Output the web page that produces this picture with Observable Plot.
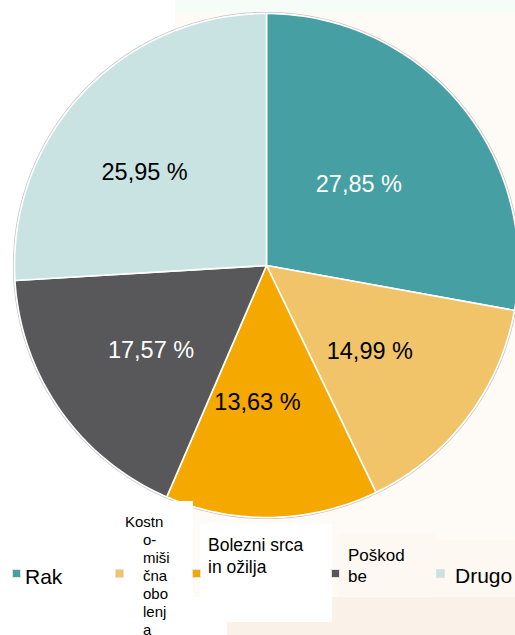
<!DOCTYPE html>
<html><head><meta charset="utf-8">
<script src="https://cdn.jsdelivr.net/npm/d3@7"></script>
<script src="https://cdn.jsdelivr.net/npm/@observablehq/plot@0.6"></script>
<style>
html,body{margin:0;padding:0;background:#fff;}
#wrap{position:relative;width:515px;height:635px;overflow:hidden;font-family:"Liberation Sans",Arial,sans-serif;}
.bg{position:absolute;}
#chart{position:absolute;left:0;top:0;}
.lg{position:absolute;color:#000;white-space:nowrap;}
.sw{position:absolute;width:7px;height:7px;box-shadow:0 0 0 1px rgba(220,220,220,0.8);}
</style></head><body>
<div id="wrap">
  <div class="bg" style="left:175px;top:0;width:340px;height:13px;background:#F6FCF8"></div>
  <div class="bg" style="left:175px;top:13px;width:340px;height:584px;background:#FEFAF5"></div>
  <div class="bg" style="left:332px;top:597px;width:183px;height:38px;background:#FAF2E8"></div>
  <div class="bg" style="left:227px;top:622px;width:106px;height:13px;background:#FAF2E8"></div>
  <div id="chart"></div>
  <div id="legend"></div>
</div>
<script>
// ---- data ----
const categories = ["Rak", "Kostno-mišična obolenja", "Bolezni srca in ožilja", "Poškodbe", "Drugo"];
const shares = [27.85, 14.99, 13.63, 17.57, 25.95];
const valueLabels = ["27,85 %", "14,99 %", "13,63 %", "17,57 %", "25,95 %"];
const colors = ["#46A0A3", "#F2C46A", "#F5A800", "#58585A", "#C9E3E3"];
const lightLabel = [true, false, false, true, false];
const legendLines = [["Rak"], ["Kostn", "o-", "miši", "čna", "obo", "lenj", "a"], ["Bolezni srca", "in ožilja"], ["Poškod", "be"], ["Drugo"]];

// ---- layout (pixel nudges of the value labels from the slice centroids) ----
const labelNudge = [[-14, 8], [-7, 2], [-12, -2], [-2, 5], [-21, 2]];

// ---- geometry (unit circle, angles clockwise from top) ----
const W = 515, H = 635, CX = 266, CY = 265, R = 252;
const total = d3.sum(shares);
const slicePts = [];
const labelPts = [];
let cum = 0;
shares.forEach((v, i) => {
  const a0 = cum / total * 2 * Math.PI;
  const a1 = (cum + v) / total * 2 * Math.PI;
  const n = Math.max(2, Math.ceil((a1 - a0) / (2 * Math.PI) * 360));
  slicePts.push({cat: categories[i], x: 0, y: 0});
  for (let k = 0; k <= n; k++) {
    const a = a0 + (a1 - a0) * k / n;
    slicePts.push({cat: categories[i], x: Math.sin(a), y: Math.cos(a)});
  }
  const am = (a0 + a1) / 2;
  labelPts.push({
    x: 0.55 * Math.sin(am) + labelNudge[i][0] / R,
    y: 0.55 * Math.cos(am) - labelNudge[i][1] / R,
    text: valueLabels[i], light: lightLabel[i]
  });
  cum += v;
});
const ring = d3.range(0, 361).map(d => {
  const a = d / 360 * 2 * Math.PI;
  return {x: 1.004 * Math.sin(a), y: 1.004 * Math.cos(a)};
});

const chart = Plot.plot({
  width: W, height: H,
  margin: 0,
  style: {background: "transparent", overflow: "visible"},
  x: {domain: [-CX / R, (W - CX) / R], range: [0, W], axis: null},
  y: {domain: [-(H - CY) / R, CY / R], range: [H, 0], axis: null},
  color: {domain: categories, range: colors},
  marks: [
    Plot.line(ring, {x: "x", y: "y", stroke: "#c9c9c9", strokeWidth: 1.2, curve: "linear-closed"}),
    Plot.line(slicePts, {x: "x", y: "y", z: "cat", fill: "cat", stroke: "#fff", strokeWidth: 1.6, strokeLinejoin: "round", curve: "linear-closed"}),
    Plot.text(labelPts, {filter: d => d.light, x: "x", y: "y", text: "text", fill: "#fff", fontSize: 23.5, fontFamily: "Liberation Sans, Arial, sans-serif"}),
    Plot.text(labelPts, {filter: d => !d.light, x: "x", y: "y", text: "text", fill: "#000", fontSize: 23.5, fontFamily: "Liberation Sans, Arial, sans-serif"})
  ]
});
document.getElementById("chart").appendChild(chart);

// ---- legend ----
const lg = document.getElementById("legend");
function box(l, t, w, h, c) {
  const d = document.createElement("div");
  d.className = "bg";
  Object.assign(d.style, {left: l + "px", top: t + "px", width: w + "px", height: h + "px", background: c});
  lg.appendChild(d);
}
function sw(l, t, c) {
  const d = document.createElement("div");
  d.className = "sw";
  Object.assign(d.style, {left: l + "px", top: t + "px", background: c});
  lg.appendChild(d);
}
function line(txt, l, baseline, fs) {
  const d = document.createElement("div");
  d.className = "lg";
  d.textContent = txt;
  Object.assign(d.style, {left: l + "px", top: (baseline - 0.8465 * fs) + "px", fontSize: fs + "px", lineHeight: fs + "px"});
  lg.appendChild(d);
}
box(115, 501, 78, 134, "#fff");
box(200, 524, 132, 98, "#fff");
box(338, 533, 99, 63, "#FDF8F1");
box(437, 540, 78, 57, "#FDF8F1");

sw(13, 570, colors[0]);
sw(116, 570, colors[1]);
sw(193, 570, colors[2]);
sw(332, 570, colors[3]);
sw(437, 570, colors[4]);

line(legendLines[0][0], 25, 584, 21);
legendLines[1].forEach((t, i) => line(t, i === 0 ? 125 : 143, 527 + i * 18, 15));
legendLines[2].forEach((t, i) => line(t, 208, 552 + i * 22, 17.5));
legendLines[3].forEach((t, i) => line(t, 348, 561 + i * 21, 17));
line(legendLines[4][0], 455, 583, 21);
</script>
</body></html>
